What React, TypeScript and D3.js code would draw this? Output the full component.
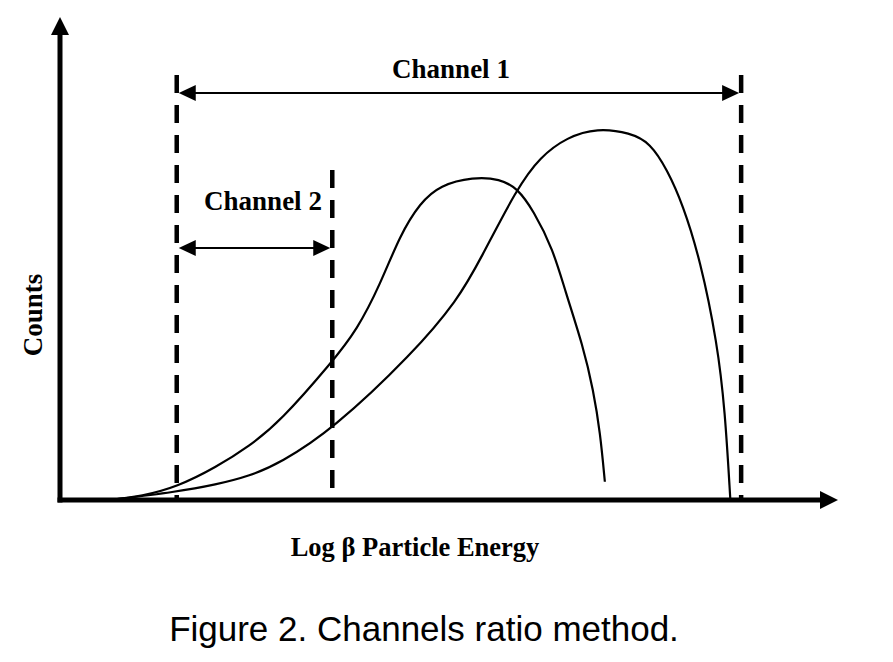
import * as d3 from 'd3'

// energy (0-100, log scale units) vs counts (0-100)
const lowEnergyX: number[] = [6.2, 10.4, 14.9, 20.0, 24.4, 28.3, 35.1, 38.3, 41.3, 43.9, 46.5, 49.1, 53.4, 56.9, 59.1, 61.2, 63.8, 65.3, 67.7, 69.0, 69.9, 70.5]
const lowEnergyY: number[] = [0, 0.8, 2.7, 6.8, 11.3, 16.3, 28.8, 35.4, 44.8, 55.2, 61.9, 65.6, 67.3, 66.9, 65.0, 60.4, 52.1, 43.8, 31.9, 22.9, 14.0, 3.8]

const highEnergyX: number[] = [6.2, 14.9, 20.0, 24.4, 28.3, 35.1, 45.6, 51.4, 54.3, 59.1, 62.1, 65.6, 69.5, 73.8, 76.4, 78.6, 80.6, 82.9, 85.1, 86.1, 86.8]
const highEnergyY: number[] = [0, 1.7, 3.2, 5.0, 7.7, 14.6, 30.6, 41.7, 50.0, 65.0, 71.5, 75.6, 77.5, 76.5, 74.4, 68.8, 61.7, 50.0, 32.7, 18.8, 0]

const channelNames: string[] = ['Channel 1', 'Channel 2']
const channelStart: number[] = [14.9, 14.9]
const channelEnd: number[] = [88.2, 35.1]

const xLabel = 'Log β Particle Energy'
const yLabel = 'Counts'
const caption = 'Figure 2. Channels ratio method.'

const W = 893
const H = 662
const serif = '"Liberation Serif", "Times New Roman", serif'

export default function App() {
    const x = d3.scaleLinear().domain([0, 100]).range([62, 832])
    const y = d3.scaleLinear().domain([0, 100]).range([500, 20])

    const line = d3.line<[number, number]>()
        .x(d => x(d[0]))
        .y(d => y(d[1]))
        .curve(d3.curveBasis)

    const curves = [
        lowEnergyX.map((v, i) => [v, lowEnergyY[i]] as [number, number]),
        highEnergyX.map((v, i) => [v, highEnergyY[i]] as [number, number]),
    ]

    const x0 = 60
    const y0 = y(0)

    // dashed boundaries: top of each dashed line, arrow row, label row
    const dashTop = [75, 170, 75]
    const bounds = [channelStart[0], channelEnd[1], channelEnd[0]]
    const arrowY = [93, 248]
    const labelY = [78, 210]
    const labelX = [451, 263]

    const arrowHead = (tipX: number, yy: number, dir: number) => {
        const len = 17, half = 8
        return `M${tipX},${yy} L${tipX - dir * len},${yy - half} L${tipX - dir * len},${yy + half} Z`
    }

    return (
        <svg width={W} height={H} style={{ position: 'absolute', left: 0, top: 0, background: '#fff' }}>
            {/* curves */}
            {curves.map((c, i) => (
                <path key={i} d={line(c) || ''} fill="none" stroke="#000" strokeWidth={2.2} />
            ))}

            {/* dashed channel boundaries */}
            {bounds.map((b, i) => (
                <line key={i} x1={x(b)} x2={x(b)} y1={dashTop[i]} y2={y0}
                    stroke="#000" strokeWidth={4.5} strokeDasharray="18,12" />
            ))}

            {/* channel arrows */}
            {channelNames.map((name, i) => {
                const xa = x(channelStart[i]) + 2
                const xb = x(channelEnd[i]) - 2
                return (
                    <g key={name}>
                        <line x1={xa + 10} x2={xb - 10} y1={arrowY[i]} y2={arrowY[i]} stroke="#000" strokeWidth={2.2} />
                        <path d={arrowHead(xa, arrowY[i], -1)} fill="#000" />
                        <path d={arrowHead(xb, arrowY[i], 1)} fill="#000" />
                        <text x={labelX[i]} y={labelY[i]}
                            textAnchor="middle" fontFamily={serif} fontWeight="bold" fontSize={27}>{name}</text>
                    </g>
                )
            })}

            {/* axes */}
            <line x1={x0} x2={x0} y1={y0 + 2.5} y2={30} stroke="#000" strokeWidth={5} />
            <path d={`M${x0},17 L${x0 - 9},35 L${x0 + 9},35 Z`} fill="#000" />
            <line x1={x0 - 2.5} x2={822} y1={y0} y2={y0} stroke="#000" strokeWidth={5} />
            <path d={`M838,${y0} L820,${y0 - 9} L820,${y0 + 9} Z`} fill="#000" />

            {/* axis titles */}
            <text x={415} y={556} textAnchor="middle" fontFamily={serif} fontWeight="bold" fontSize={26.5}>{xLabel}</text>
            <text transform={`translate(42, 315) rotate(-90)`} textAnchor="middle" fontFamily={serif}
                fontWeight="bold" fontSize={27}>{yLabel}</text>

            <text x={424} y={641} textAnchor="middle" fontFamily={'"Liberation Sans", Arial, sans-serif'}
                fontSize={35}>{caption}</text>
        </svg>
    )
}
